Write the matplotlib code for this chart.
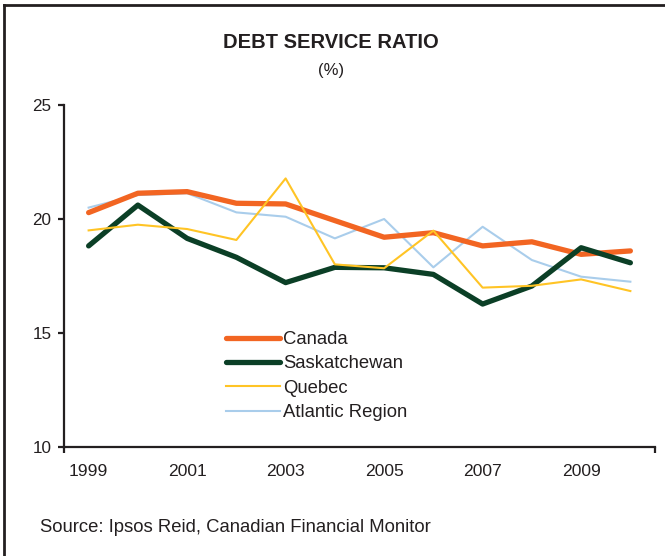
import matplotlib
matplotlib.use("Agg")
import matplotlib.pyplot as plt
from matplotlib.lines import Line2D
from matplotlib.ticker import FixedLocator

years = [1999, 2000, 2001, 2002, 2003, 2004, 2005, 2006, 2007, 2008, 2009, 2010]
canada = [20.28, 21.13, 21.2, 20.69, 20.66, 19.93, 19.2, 19.4, 18.82, 19.0, 18.45, 18.6]
saskatchewan = [18.82, 20.61, 19.15, 18.32, 17.21, 17.88, 17.86, 17.57, 16.27, 17.06, 18.74, 18.08]
quebec = [19.5, 19.75, 19.56, 19.08, 21.78, 18.01, 17.84, 19.49, 16.99, 17.07, 17.35, 16.84]
atlantic = [20.5, 21.05, 21.13, 20.29, 20.1, 19.15, 20.0, 17.88, 19.66, 18.2, 17.47, 17.25]
xtick_labels = ["1999", "2001", "2003", "2005", "2007", "2009"]
yticks = [10, 15, 20, 25]

plt.rcParams['font.family'] = ['Liberation Sans', 'DejaVu Sans']
txt = '#231F20'

fig = plt.figure(figsize=(6.65, 5.56), dpi=100)
ax = fig.add_axes([64/665, 1-447/556, (655-64)/665, (447-105)/556])

idx = list(range(len(years)))
ax.plot(idx, canada, color='#F26522', lw=3.8, solid_capstyle='round', label='Canada', zorder=3)
ax.plot(idx, saskatchewan, color='#0B3F26', lw=3.8, solid_capstyle='round', label='Saskatchewan', zorder=4)
ax.plot(idx, quebec, color='#FFC425', lw=1.5, label='Quebec', zorder=5)
ax.plot(idx, atlantic, color='#A9CDEB', lw=1.5, label='Atlantic Region', zorder=2)

ax.set_xlim(-0.5, len(years) - 0.5)
ax.set_ylim(10, 25)
ax.set_yticks(yticks)
ax.set_yticklabels([str(v) for v in yticks])
ax.xaxis.set_major_locator(FixedLocator([years.index(int(s)) for s in xtick_labels]))
ax.set_xticklabels(xtick_labels)
ax.xaxis.set_minor_locator(FixedLocator([-0.5, len(years) - 0.5]))
ax.tick_params(axis='x', which='major', length=0, pad=12, labelsize=12.6, labelcolor=txt)
ax.tick_params(axis='x', which='minor', length=4, width=1.6, direction='out', color=txt)
ax.tick_params(axis='y', length=4, width=1.6, direction='out', pad=5, labelsize=12.3, labelcolor=txt, color=txt)

for s in ['top', 'right']:
    ax.spines[s].set_visible(False)
for s in ['left', 'bottom']:
    ax.spines[s].set_linewidth(1.6)
    ax.spines[s].set_color(txt)

leg = ax.legend(loc='upper left', bbox_to_anchor=((226-64)/591, (447-331)/342), frameon=False,
                fontsize=13.3, handlelength=2.9, handletextpad=0.2, labelspacing=0.4,
                borderaxespad=0, borderpad=0)
for t in leg.get_texts():
    t.set_color(txt)

fig.text(331/665, 1-43/556, 'DEBT SERVICE RATIO', ha='center', va='center', fontsize=14.5, fontweight='bold', color=txt)
fig.text(331/665, 1-70/556, '(%)', ha='center', va='center', fontsize=12, color=txt)
fig.text(40/665, 1-527/556, 'Source: Ipsos Reid, Canadian Financial Monitor', ha='left', va='center', fontsize=13.3, color=txt)

fig.add_artist(Line2D([4/665, 4/665], [0, 1-5/556], transform=fig.transFigure, color=txt, lw=2))
fig.add_artist(Line2D([4/665, 1], [1-5/556, 1-5/556], transform=fig.transFigure, color=txt, lw=2))

fig.savefig('out.png', dpi=100)
